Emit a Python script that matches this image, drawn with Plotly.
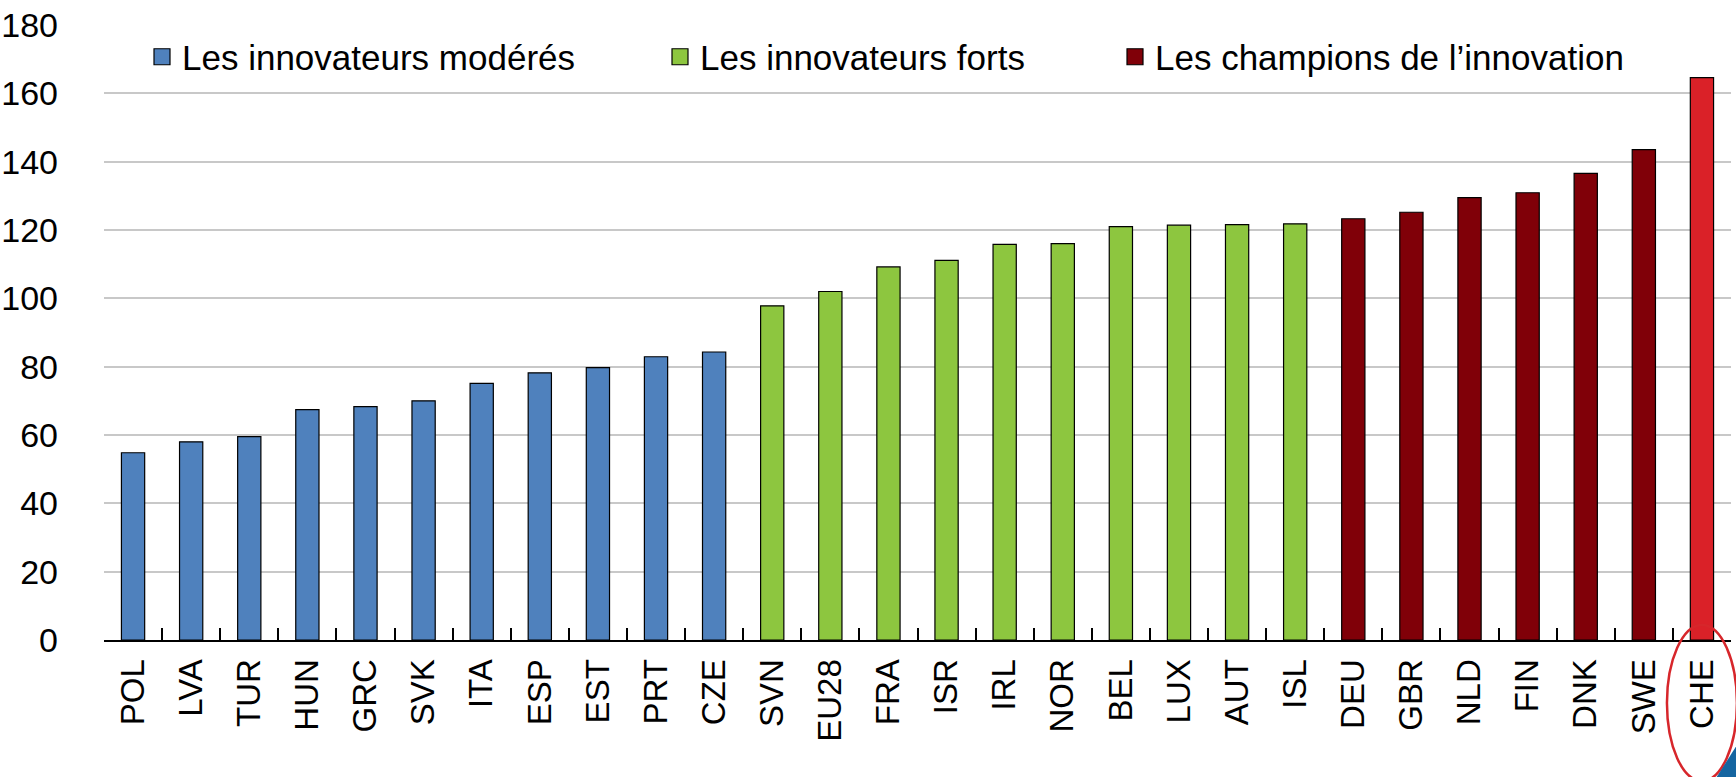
import plotly.graph_objects as go

# ---- data ----
moderate_countries = ["POL", "LVA", "TUR", "HUN", "GRC", "SVK", "ITA", "ESP", "EST", "PRT", "CZE"]
moderate_values = [54.8, 58.0, 59.5, 67.4, 68.3, 70.0, 75.1, 78.2, 79.7, 82.9, 84.3]

strong_countries = ["SVN", "EU28", "FRA", "ISR", "IRL", "NOR", "BEL", "LUX", "AUT", "ISL"]
strong_values = [97.8, 102.0, 109.2, 111.1, 115.8, 116.0, 121.0, 121.4, 121.6, 121.8]

champion_countries = ["DEU", "GBR", "NLD", "FIN", "DNK", "SWE", "CHE"]
champion_values = [123.3, 125.2, 129.5, 130.9, 136.6, 143.5, 164.6]

highlight_country = "CHE"

series_names = ["Les innovateurs modérés", "Les innovateurs forts", "Les champions de l’innovation"]
y_ticks = [0, 20, 40, 60, 80, 100, 120, 140, 160, 180]

# ---- styles ----
BLUE = "#4F81BD"
GREEN = "#8DC63F"
DARKRED = "#800008"
RED = "#DA2128"
SANS = "Liberation Sans, Arial, sans-serif"

all_countries = moderate_countries + strong_countries + champion_countries
n = len(all_countries)

fig = go.Figure()

bar_line = dict(color="black", width=1.2)
fig.add_trace(go.Bar(x=moderate_countries, y=moderate_values, marker=dict(color=BLUE, line=bar_line),
                     showlegend=False, name=series_names[0]))
fig.add_trace(go.Bar(x=strong_countries, y=strong_values, marker=dict(color=GREEN, line=bar_line),
                     showlegend=False, name=series_names[1]))
champ_colors = [RED if c == highlight_country else DARKRED for c in champion_countries]
fig.add_trace(go.Bar(x=champion_countries, y=champion_values, marker=dict(color=champ_colors, line=bar_line),
                     showlegend=False, name=series_names[2]))

# legend proxies (bigger square symbols)
for name, col, lg in zip(series_names, [BLUE, GREEN, DARKRED], ["legend", "legend2", "legend3"]):
    fig.add_trace(go.Scatter(x=[None], y=[None], mode="markers", name=name, legend=lg,
                             marker=dict(symbol="square", size=22, color=col,
                                         line=dict(color="black", width=1.2))))

W, H = 1736, 777
L, R, T, B = 104, 5, 25, 137
pw = W - L - R
ph = H - T - B

def lx(px):
    return (px - L) / pw

def py(pxy):
    return (H - B - pxy) / ph

legend_common = dict(orientation="h", yanchor="middle", xanchor="left", bgcolor="rgba(0,0,0,0)",
                     font=dict(family=SANS, size=35, color="black"), itemsizing="trace",
                     borderwidth=0)

hi = all_countries.index(highlight_country)
cx = (hi + 0.5) / n  # paper x of highlighted category centre

fig.update_layout(
    template="none",
    width=W, height=H,
    margin=dict(l=L, r=R, t=T, b=B, pad=0, autoexpand=False),
    paper_bgcolor="white", plot_bgcolor="white",
    barmode="overlay", bargap=0.6,
    legend=dict(x=lx(142), y=py(57), **legend_common),
    legend2=dict(x=lx(660), y=py(57), **legend_common),
    legend3=dict(x=lx(1115), y=py(57), **legend_common),
    xaxis=dict(
        type="category", categoryorder="array", categoryarray=all_countries,
        range=[-0.5, n - 0.5], automargin=False,
        showline=True, linecolor="black", linewidth=2,
        ticks="inside", tickson="boundaries", ticklen=12, tickwidth=2, tickcolor="black",
        tickangle=-90, tickfont=dict(family=SANS, size=33, color="black"),
        ticklabelstandoff=4,
        showgrid=False, zeroline=False,
    ),
    yaxis=dict(
        range=[0, 180], tickvals=y_ticks, ticktext=[str(v) for v in y_ticks],
        automargin=False,
        showgrid=True, gridcolor="#C8C8C8", gridwidth=2,
        showline=False, zeroline=False, ticks="",
        tickfont=dict(family=SANS, size=34, color="black"),
        ticklabelstandoff=45,
    ),
    shapes=[
        dict(type="circle", xref="paper", yref="paper",
             x0=cx - 35 / pw, x1=cx + 35 / pw,
             y0=py(781), y1=py(625),
             line=dict(color="#D7262B", width=2.5), fillcolor="rgba(0,0,0,0)", layer="above"),
        dict(type="path", xref="paper", yref="paper",
             path=f"M {lx(1737)} {py(745)} L {lx(1737)} {py(778)} L {lx(1716)} {py(778)} Z",
             fillcolor="#1565A0", line=dict(width=0), layer="above"),
    ],
)

fig.write_html(
    "out.html",
    config={"displayModeBar": False},
    post_script="document.body.style.margin='0';document.body.style.overflow='hidden';",
)
